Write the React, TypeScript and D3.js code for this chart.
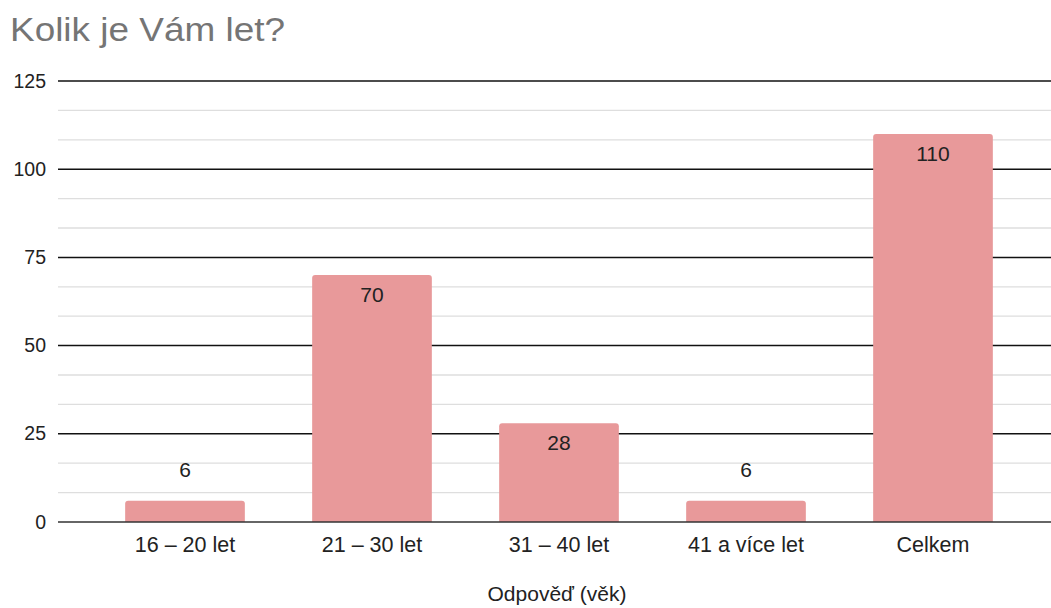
import React from "react";
import * as d3 from "d3";

const categories = ["16 – 20 let", "21 – 30 let", "31 – 40 let", "41 a více let", "Celkem"];
const values = [6, 70, 28, 6, 110];
const majorTicks = [0, 25, 50, 75, 100, 125];
const title = "Kolik je Vám let?";
const xTitle = "Odpověď (věk)";

const W = 1051, H = 608;
const gridLeft = 58, gridRight = 1051;
const yTop = 81, yBottom = 522;
const FONT = "'Liberation Sans', Arial, sans-serif";

export default function App() {
  const y = d3.scaleLinear().domain([0, 125]).range([yBottom, yTop]);
  const x = d3.scaleBand<string>().domain(categories).range([91.5, 1026.5]).paddingInner(0.36).paddingOuter(0.18);
  const minor: number[] = [];
  for (let i = 0; i < 125; i += 25) {
    minor.push(i + 25 / 3, i + 50 / 3);
  }
  const bw = x.bandwidth();
  const r = 3;
  const barPath = (x0: number, y0: number, w: number, h: number) => {
    const rr = Math.min(r, h / 2);
    return `M${x0},${y0 + h}V${y0 + rr}Q${x0},${y0} ${x0 + rr},${y0}H${x0 + w - rr}Q${x0 + w},${y0} ${x0 + w},${y0 + rr}V${y0 + h}Z`;
  };
  return (
    <div style={{ position: "fixed", left: 0, top: 0, width: W, height: H, overflow: "hidden" }}>
      <style>{"html,body{margin:0;padding:0;overflow:hidden}"}</style>
      <svg width={W} height={H} style={{ display: "block", background: "#fff" }} fontFamily={FONT}>
        <text x={10} y={41} fontSize={33} fill="#757575" textLength={275} lengthAdjust="spacingAndGlyphs">{title}</text>
        {minor.map((v) => (
          <line key={"m" + v} x1={gridLeft} x2={gridRight} y1={y(v)} y2={y(v)} stroke="#dedede" strokeWidth={1.3} />
        ))}
        {majorTicks.map((v) => (
          <g key={"t" + v}>
            {v !== 0 && <line x1={gridLeft} x2={gridRight} y1={y(v)} y2={y(v)} stroke="#111" strokeWidth={1.5} />}
            <text x={46} y={y(v) + 6.5} textAnchor="end" fontSize={19.5} fill="#222">{v}</text>
          </g>
        ))}
        {categories.map((c, i) => {
          const x0 = x(c)!;
          const yv = y(values[i]);
          const h = yBottom - yv;
          const inside = h > 40;
          return (
            <g key={c}>
              <path d={barPath(x0, yv, bw, h)} fill="#e8999a" />
              <text x={x0 + bw / 2} y={inside ? yv + 27 : yv - 24} textAnchor="middle" fontSize={21} fill="#222">{values[i]}</text>
              <text x={x0 + bw / 2} y={552} textAnchor="middle" fontSize={21.5} fill="#222">{c}</text>
            </g>
          );
        })}
        <line x1={gridLeft} x2={gridRight} y1={yBottom} y2={yBottom} stroke="#333" strokeWidth={1.5} />
        <text x={557} y={601} textAnchor="middle" fontSize={21} fill="#222">{xTitle}</text>
      </svg>
    </div>
  );
}
